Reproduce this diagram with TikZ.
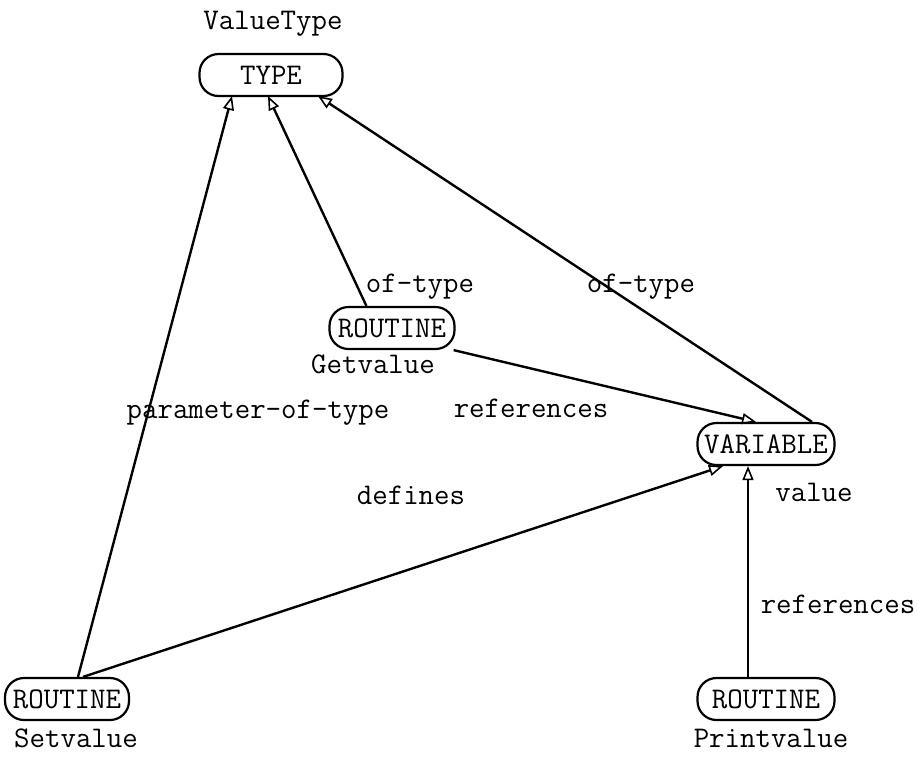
\documentclass[tikz,border=0pt]{standalone}
\usetikzlibrary{arrows.meta}
\begin{document}
\begin{tikzpicture}[x=1pt,y=-1pt,
  every node/.style={font=\fontsize{30}{33}\selectfont\ttfamily},
  ent/.style={draw,line width=2.2pt,rounded corners=19pt,minimum height=42pt,inner xsep=4pt,inner ysep=0pt},
  lbl/.style={inner sep=0pt},
  conn/.style={line width=2.4pt,-{Triangle[open,length=14pt,width=11pt,line width=1.6pt]}}]
\useasboundingbox (0,0) rectangle (918,756);
\node[ent,minimum width=143pt] (type) at (271,75) {TYPE};
\node[lbl] (typel) at (273,24) {ValueType};
\node[ent,minimum width=125pt] (get) at (392,328) {ROUTINE};
\node[lbl] (getl) at (373,364) {Getvalue};
\node[ent,minimum width=137pt] (var) at (766,444) {VARIABLE};
\node[lbl] (varl) at (814,492) {value};
\node[ent,minimum width=124pt] (set) at (67,699) {ROUTINE};
\node[lbl] (setl) at (76,738) {Setvalue};
\node[ent,minimum width=137pt] (prt) at (766,699) {ROUTINE};
\node[lbl] (prtl) at (771,738) {Printvalue};
\coordinate (tA) at (232,96);
\coordinate (tB) at (268,96);
\coordinate (tC) at (318,96);
\draw[conn] (get.north west) ++(38,0) coordinate (g1) (g1) -- (tB);
\draw[conn] (var.north) ++(46,0) coordinate (v1) (v1) -- (tC);
\draw[conn] (get.south east) ++(-2,0) coordinate (g2) (g2) -- ([xshift=-10pt]var.north);
\draw[conn] (set.north) ++(11,0) coordinate (s1) (s1) -- (tA);
\draw[conn] (set.north) ++(16,0) coordinate (s2) (s2) -- ([xshift=-43pt]var.south);
\draw[conn] (prt.north) ++(-18,0) coordinate (p1) (p1) -- ([xshift=-18pt]var.south);
\node[lbl] (e1) at (420,287) {of-type};
\node[lbl] (e2) at (641,287) {of-type};
\node[lbl] (e3) at (531,408) {references};
\node[lbl] (e4) at (258,413) {parameter-of-type};
\node[lbl] (e5) at (411,495) {defines};
\node[lbl] (e6) at (838,604) {references};
\end{tikzpicture}
\end{document}
